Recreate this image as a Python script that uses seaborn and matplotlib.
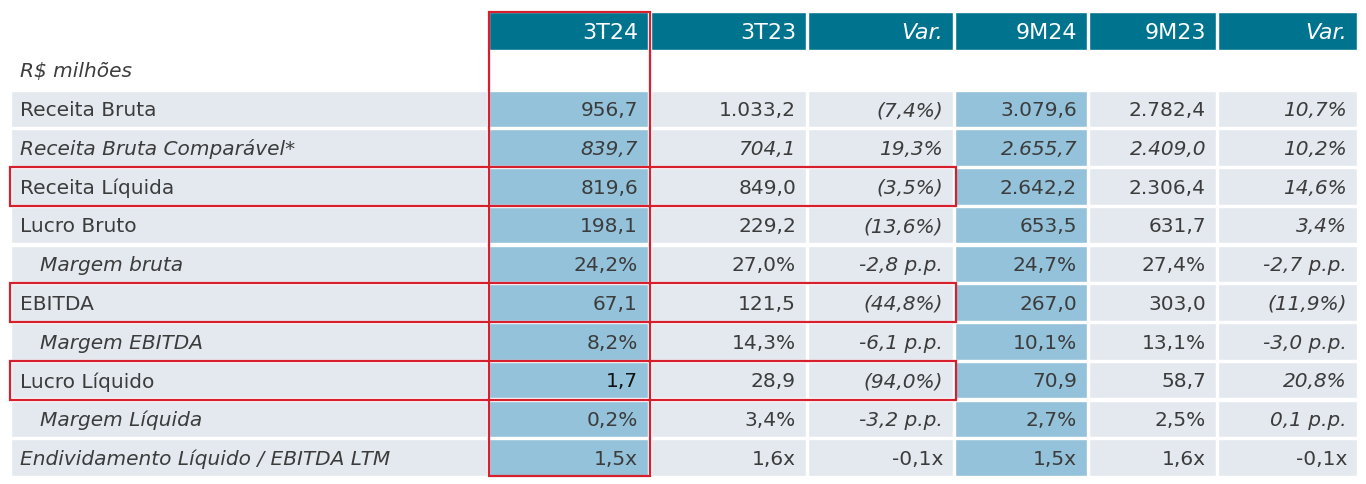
import matplotlib.pyplot as plt
import seaborn as sns
from matplotlib.patches import Rectangle

# table content
columns = ["3T24", "3T23", "Var.", "9M24", "9M23", "Var."]
rows = ["Receita Bruta", "Receita Bruta Comparável*", "Receita Líquida", "Lucro Bruto",
        "Margem bruta", "EBITDA", "Margem EBITDA", "Lucro Líquido", "Margem Líquida",
        "Endividamento Líquido / EBITDA LTM"]
t3_24 = ["956,7", "839,7", "819,6", "198,1", "24,2%", "67,1", "8,2%", "1,7", "0,2%", "1,5x"]
t3_23 = ["1.033,2", "704,1", "849,0", "229,2", "27,0%", "121,5", "14,3%", "28,9", "3,4%", "1,6x"]
var_t = ["(7,4%)", "19,3%", "(3,5%)", "(13,6%)", "-2,8 p.p.", "(44,8%)", "-6,1 p.p.",
         "(94,0%)", "-3,2 p.p.", "-0,1x"]
m9_24 = ["3.079,6", "2.655,7", "2.642,2", "653,5", "24,7%", "267,0", "10,1%", "70,9", "2,7%", "1,5x"]
m9_23 = ["2.782,4", "2.409,0", "2.306,4", "631,7", "27,4%", "303,0", "13,1%", "58,7", "2,5%", "1,6x"]
var_m = ["10,7%", "10,2%", "14,6%", "3,4%", "-2,7 p.p.", "(11,9%)", "-3,0 p.p.",
         "20,8%", "0,1 p.p.", "-0,1x"]
unit_label = "R$ milhões"

indented = ["Margem bruta", "Margem EBITDA", "Margem Líquida"]
italic_labels = ["Receita Bruta Comparável*", "Margem bruta", "Margem EBITDA",
                 "Margem Líquida", "Endividamento Líquido / EBITDA LTM"]
italic_rows = ["Receita Bruta Comparável*"]
plain_var_rows = ["Endividamento Líquido / EBITDA LTM"]
boxed_rows = ["Receita Líquida", "EBITDA", "Lucro Líquido"]
highlight_cols = ["3T24", "9M24"]

values = [t3_24, t3_23, var_t, m9_24, m9_23, var_m]

# layout (pixels)
col_left = [489, 651, 808, 955, 1089, 1218]
col_right = [648, 806, 953, 1087, 1216, 1357]
label_left, label_right = 11, 487
head_top, head_bot = 13, 51
row0, row_step, row_h = 91.5, 38.75, 36.5

TEAL = "#00738F"
LIGHT = "#E4E9EF"
BLUE = "#93C2DA"
RED = "#D7202E"
TXT = "#3C3C3C"

sns.set_style("white")
plt.rcParams["font.family"] = ["DejaVu Sans"]

fig = plt.figure(figsize=(13.66, 4.85), dpi=100)
ax = fig.add_axes([0, 0, 1, 1])
ax.set_xlim(0, 1366)
ax.set_ylim(485, 0)
ax.axis("off")

centers = [row0 + row_step * i + row_h / 2 for i in range(len(rows))]

# header
for j, name in enumerate(columns):
    ax.barh((head_top + head_bot) / 2, col_right[j] - col_left[j], left=col_left[j],
            height=head_bot - head_top, color=TEAL)
    ax.text(col_right[j] - 10, (head_top + head_bot) / 2 + 1, name, color="white",
            fontsize=16, ha="right", va="center",
            style="italic" if name == "Var." else "normal")

ax.text(20, 72, unit_label, color=TXT, fontsize=14.5, style="italic", va="center")

# label column
ax.barh(centers, label_right - label_left, left=label_left, height=row_h, color=LIGHT)
for i, lab in enumerate(rows):
    x = 40 if lab in indented else 20
    ax.text(x, centers[i] + 1, lab, color=TXT, fontsize=14.5, va="center",
            style="italic" if lab in italic_labels else "normal")

# value columns
for j, name in enumerate(columns):
    fill = BLUE if name in highlight_cols else LIGHT
    ax.barh(centers, col_right[j] - col_left[j], left=col_left[j], height=row_h, color=fill)
    for i, lab in enumerate(rows):
        italic = lab in italic_rows or (name == "Var." and lab not in plain_var_rows)
        colr = "#111111" if (j == 0 and lab == "Lucro Líquido") else TXT
        ax.text(col_right[j] - 10, centers[i] + 1, values[j][i], color=colr,
                fontsize=14.5, ha="right", va="center",
                style="italic" if italic else "normal")

# red highlight boxes
ax.add_patch(Rectangle((488.5, 13), 161, 463.5, fill=False, ec=RED, lw=1.6, zorder=5))
for lab in boxed_rows:
    i = rows.index(lab)
    ax.add_patch(Rectangle((9.5, centers[i] - 19.5), 946, 39, fill=False, ec=RED,
                           lw=1.6, zorder=5))

fig.savefig("out.png", dpi=100)
